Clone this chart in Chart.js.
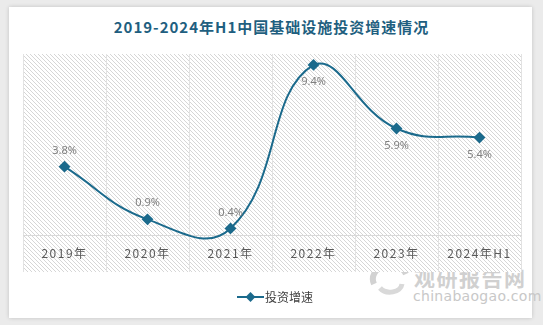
<!DOCTYPE html>
<html>
<head>
<meta charset="utf-8">
<script src="https://cdn.jsdelivr.net/npm/chart.js@4.4.1/dist/chart.umd.min.js"></script>
<style>
    html, body { margin: 0; padding: 0; }
    body { width: 543px; height: 325px; background: #ebebeb; position: relative; overflow: hidden; font-family: "Noto Sans CJK SC", "Noto Sans", sans-serif; }
    .card { position: absolute; left: 9px; top: 7px; width: 523px; height: 311px; background: #fff; box-shadow: 0 0 4px rgba(0,0,0,0.18); }
    .title { position: absolute; left: 0; top: 16px; width: 543px; text-align: center; font-size: 15px; font-weight: bold; color: #1f5f80; letter-spacing: 1px; }
    #wrap { position: absolute; left: 0; top: 0; width: 543px; height: 325px; }
    .legend { position: absolute; left: 237px; top: 288px; font-size: 12px; color: #404040; display: flex; align-items: center; }
    .legend svg { margin-right: 1px; }
    .mark { position: absolute; left: 368px; top: 262px; color: #d0d0d0; }
    .mark .cn { position: absolute; left: 46px; top: 0; font-size: 21px; font-weight: bold; letter-spacing: 1.5px; white-space: nowrap; }
    .mark .en { position: absolute; left: 45px; top: 26px; font-size: 14px; font-family: "DejaVu Sans", sans-serif; letter-spacing: 0.3px; white-space: nowrap; color: #c8c8c8; }
</style>
</head>
<body>
<div class="card"></div>
<div class="title">2019-2024年H1中国基础设施投资增速情况</div>
<div class="mark">
    <svg width="44" height="36" viewBox="0 0 44 36">
        <path d="M6 22 A16 13 0 0 1 38 12" fill="none" stroke="#d2d2d2" stroke-width="6"/>
        <path d="M12 26 A12 9 0 0 0 34 22" fill="none" stroke="#d9d9d9" stroke-width="5"/>
    </svg>
    <span class="cn">观研报告网</span>
    <span class="en">chinabaogao.com</span>
</div>
<div id="wrap"><canvas id="myChart" width="543" height="325"></canvas></div>
<div class="legend">
    <svg width="27" height="10"><line x1="0" y1="5" x2="27" y2="5" stroke="#1b6a8c" stroke-width="2"/><rect x="10" y="1.5" width="7" height="7" fill="#1b6a8c" transform="rotate(45 13.5 5)"/></svg>
    <span>投资增速</span>
</div>
<script>
// 2019-2024H1 infrastructure investment growth
const ctx = document.getElementById('myChart');

const categories = ['2019年', '2020年', '2021年', '2022年', '2023年', '2024年H1'];
const growth = [3.8, 0.9, 0.4, 9.4, 5.9, 5.4];
const valueLabels = ['3.8%', '0.9%', '0.4%', '9.4%', '5.9%', '5.4%'];
const labelAbove = [true, true, true, false, false, false];

const lineColor = '#1b6a8c';

// hatched background of plot
function makeHatch() {
    const p = document.createElement('canvas');
    p.width = 4;
    p.height = 4;
    const c = p.getContext('2d');
    c.fillStyle = '#ffffff';
    c.fillRect(0, 0, 4, 4);
    c.strokeStyle = '#d6d6d6';
    c.lineWidth = 1;
    c.beginPath();
    c.moveTo(-1, -1); c.lineTo(5, 5);
    c.moveTo(-1, 3); c.lineTo(1, 5);
    c.moveTo(3, -1); c.lineTo(5, 1);
    c.stroke();
    return p;
}

const hatchBg = {
    id: 'hatchBg',
    beforeDraw(chart) {
        const a = chart.chartArea;
        const c = chart.ctx;
        c.save();
        c.fillStyle = c.createPattern(makeHatch(), 'repeat');
        c.fillRect(a.left, a.top, a.right - a.left, a.bottom - a.top);
        c.restore();
        // spaced out axis labels like the original
        c.letterSpacing = '1.5px';
    },
    beforeDatasetsDraw(chart) {
        chart.ctx.letterSpacing = '0px';
    }
};

// value labels above / below points
const pointLabels = {
    id: 'pointLabels',
    afterDatasetsDraw(chart) {
        const c = chart.ctx;
        const meta = chart.getDatasetMeta(0);
        c.save();
        c.font = '11px "Noto Sans", sans-serif';
        c.fillStyle = '#7f7f7f';
        c.textAlign = 'center';
        c.textBaseline = 'middle';
        meta.data.forEach((pt, i) => {
            const dy = labelAbove[i] ? -16 : 17;
            c.fillText(valueLabels[i], pt.x, pt.y + dy);
        });
        c.restore();
    }
};

new Chart(ctx, {
    type: 'line',
    data: {
        labels: categories,
        datasets: [{
            label: '投资增速',
            data: growth,
            borderColor: lineColor,
            backgroundColor: lineColor,
            borderWidth: 2,
            tension: 0.45,
            pointStyle: 'rectRot',
            pointRadius: 4.5,
            pointHoverRadius: 4.5,
            fill: false
        }]
    },
    options: {
        responsive: false,
        animation: false,
        devicePixelRatio: 1,
        layout: {
            padding: { left: 23, right: 22, top: 54, bottom: 53 }
        },
        scales: {
            y: {
                display: false,
                min: -2,
                max: 10
            },
            x: {
                position: { y: 0 },
                offset: true,
                grid: {
                    offset: true,
                    color: '#e2e2e2',
                    drawTicks: false
                },
                border: {
                    display: true,
                    color: '#d9d9d9',
                    width: 1
                },
                ticks: {
                    color: '#595959',
                    padding: 11,
                    autoSkip: false,
                    maxRotation: 0,
                    font: { size: 12, family: '"Noto Sans CJK SC", sans-serif' }
                }
            }
        },
        plugins: {
            legend: { display: false },
            tooltip: { enabled: false }
        }
    },
    plugins: [hatchBg, pointLabels]
});
</script>
</body>
</html>
